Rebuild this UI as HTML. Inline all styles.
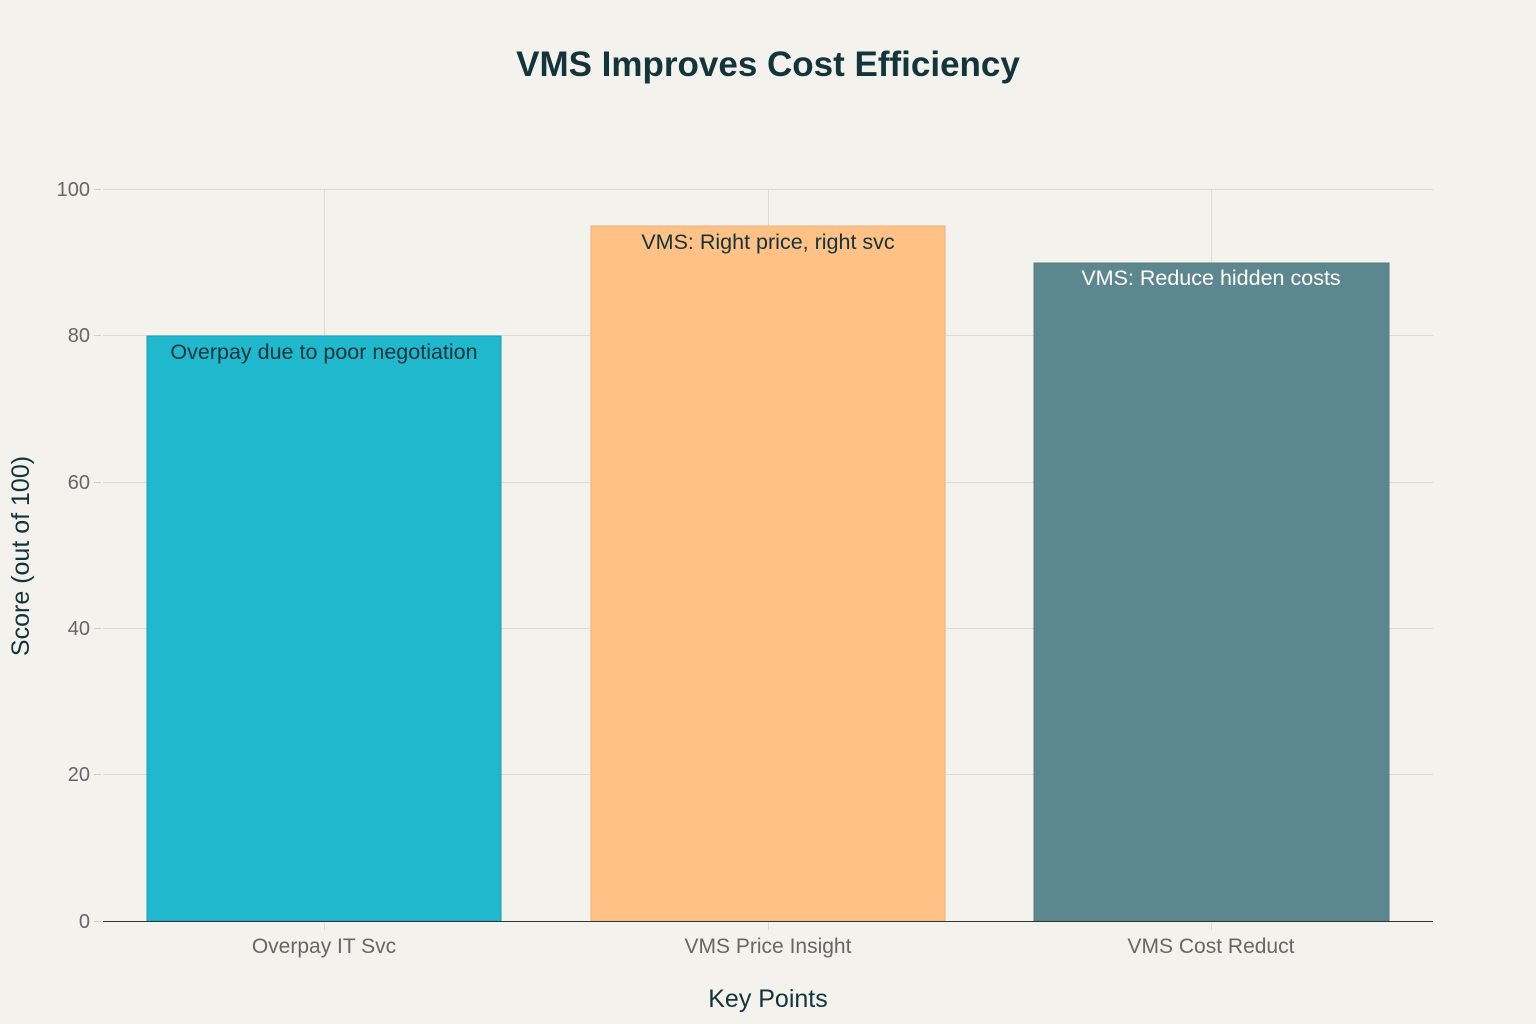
<!DOCTYPE html>
<html><head><meta charset="utf-8"><style>
html,body{margin:0;padding:0;background:#f3f2ec;}
svg{display:block;font-family:"Liberation Sans",sans-serif;}
</style></head><body>
<svg width="1536" height="1024" viewBox="0 0 1536 1024" xmlns="http://www.w3.org/2000/svg">
<rect width="1536" height="1024" fill="#f3f2ec"/>
<text x="768" y="76" text-anchor="middle" font-size="35" font-weight="bold" fill="#13343b">VMS Improves Cost Efficiency</text>
<g stroke="#dcdcd6" stroke-width="1">
<line x1="103" y1="189.5" x2="1433" y2="189.5"/>
<line x1="103" y1="335.5" x2="1433" y2="335.5"/>
<line x1="103" y1="482.5" x2="1433" y2="482.5"/>
<line x1="103" y1="628.5" x2="1433" y2="628.5"/>
<line x1="103" y1="774.5" x2="1433" y2="774.5"/>
<line x1="324.5" y1="189" x2="324.5" y2="930"/>
<line x1="768.5" y1="189" x2="768.5" y2="930"/>
<line x1="1211.5" y1="189" x2="1211.5" y2="930"/>
</g>
<g stroke="#cfcfc9"><line x1="94" y1="189.5" x2="101" y2="189.5"/><line x1="94" y1="335.5" x2="101" y2="335.5"/><line x1="94" y1="482.5" x2="101" y2="482.5"/><line x1="94" y1="628.5" x2="101" y2="628.5"/><line x1="94" y1="774.5" x2="101" y2="774.5"/><line x1="94" y1="921.5" x2="101" y2="921.5"/></g>
<rect x="147" y="336" width="354" height="585" fill="#1fb8cd" stroke="#1a9fb0" stroke-width="1"/>
<rect x="591" y="226" width="354" height="695" fill="#ffc185" stroke="#e8b383" stroke-width="1"/>
<rect x="1034" y="263" width="355" height="658" fill="#5d878f" stroke="#557c83" stroke-width="1"/>
<line x1="103" y1="921.5" x2="1433" y2="921.5" stroke="#333" stroke-width="1"/>
<g font-size="21.5" fill="#13343b" text-anchor="middle">
<text x="324" y="359">Overpay due to poor negotiation</text>
<text x="768" y="249">VMS: Right price, right svc</text>
<text x="1211" y="285" fill="#ffffff">VMS: Reduce hidden costs</text>
</g>
<g font-size="20" fill="#666" text-anchor="end">
<text x="90" y="196">100</text><text x="90" y="342">80</text><text x="90" y="489">60</text><text x="90" y="635">40</text><text x="90" y="781">20</text><text x="90" y="928">0</text>
</g>
<g font-size="21" fill="#666" text-anchor="middle">
<text x="324" y="953">Overpay IT Svc</text><text x="768" y="953">VMS Price Insight</text><text x="1211" y="953">VMS Cost Reduct</text>
</g>
<text x="768" y="1007" text-anchor="middle" font-size="25" fill="#13343b">Key Points</text>
<text transform="translate(29,556) rotate(-90)" text-anchor="middle" font-size="25" fill="#13343b">Score (out of 100)</text>
</svg>
</body></html>
